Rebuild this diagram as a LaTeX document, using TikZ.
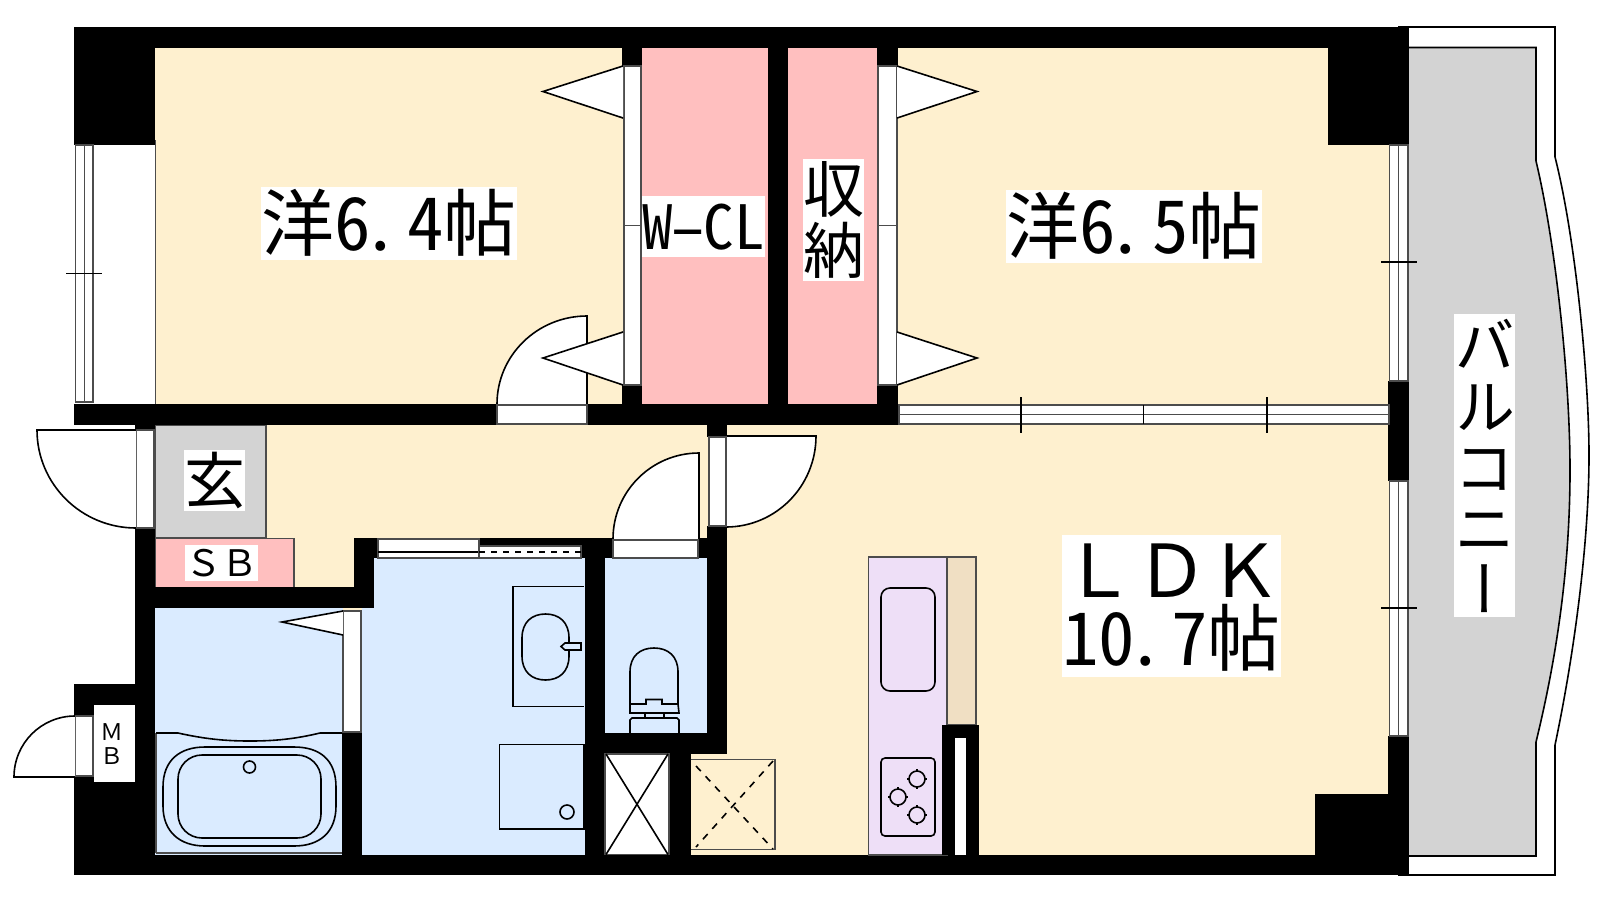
\documentclass[tikz,border=0pt]{standalone}
\usepackage{fontspec}
\newfontfamily\jpfont{Noto Sans CJK JP}
\newfontfamily\jphalf[RawFeature=+hwid]{Noto Sans CJK JP}
\newfontfamily\jpvert[RawFeature=+vert]{Noto Sans CJK JP}
\definecolor{cream}{HTML}{FEF0CF}
\definecolor{pinkroom}{HTML}{FFBFBF}
\definecolor{blueroom}{HTML}{DAEBFF}
\definecolor{grayroom}{HTML}{D3D3D3}
\definecolor{lilac}{HTML}{EEDFF7}
\definecolor{tan2}{HTML}{F0DFC3}
\tikzset{
  wall/.style={fill=black,draw=none},
  frame/.style={fill=white,draw=black!70,line width=1.5pt},
  fix/.style={draw=black,line width=1.6pt},
  grayline/.style={draw=black!70,line width=1.5pt},
  thin line/.style={draw=black,line width=1.2pt},
  lab/.style={fill=white,inner sep=0pt,outer sep=0pt,text=black,align=center},
}
% quarter door: centre, vector a, vector b
\newcommand{\doorleaf}[6]{%
  \filldraw[fill=white,draw=black,line width=1.6pt] (#1,#2) -- ({#1+#3},{#2+#4})
    .. controls ({#1+#3+0.5523*#5},{#2+#4+0.5523*#6}) and ({#1+#5+0.5523*#3},{#2+#6+0.5523*#4})
    .. ({#1+#5},{#2+#6});}
\newcommand{\burner}[2]{%
  \draw[thin line] ({#1-10},#2) -- ({#1+10},#2) ({#1},{#2-10}) -- ({#1},{#2+10});
  \fill[lilac] (#1,#2) circle[radius=7.3];
  \draw[fix] (#1,#2) circle[radius=8];}
\newcommand{\dotpt}[1]{\kern-#1pt.\kern#1pt}
\begin{document}
\begin{tikzpicture}[x=1pt,y=-1pt]
\useasboundingbox (0,0) rectangle (1600,900);
\fill[white] (0,0) rectangle (1600,900);
% balcony
\draw[fix,fill=white] (1398,27) -- (1555,27) -- (1555,157)
  .. controls (1576,240) and (1589,380) .. (1589,455)
  .. controls (1589,540) and (1575,650) .. (1555,745) -- (1555,875) -- (1398,875);
\draw[fix,fill=grayroom] (1409,47.5) -- (1536,47.5) -- (1536,161)
  .. controls (1556,245) and (1570,380) .. (1570,470)
  .. controls (1570,570) and (1556,660) .. (1536,742) -- (1536,856) -- (1409,856);
% rooms
\fill[cream] (155,48) rectangle (1389,855);
\fill[white] (93,145) rectangle (155,404);
\draw[grayline] (155.5,140) -- (155.5,404);
\fill[pinkroom] (642,48) rectangle (768,404);
\fill[pinkroom] (788,48) rectangle (877,404);
\filldraw[fill=grayroom,grayline] (155,425) rectangle (266,538);
\filldraw[fill=pinkroom,grayline] (155,538.5) rectangle (294,588);
\fill[blueroom] (155,608) rectangle (343,855);
\fill[blueroom] (362,608) rectangle (585,855);
\fill[blueroom] (374,558) rectangle (585,610);
\fill[blueroom] (605,558) rectangle (707,733);
% walls
\fill[wall] (74,27) rectangle (1409,48);
\fill[wall] (74,27) rectangle (155,145);
\fill[wall] (1328,27) rectangle (1409,145);
\fill[wall] (74,404) rectangle (898,425);
\fill[wall] (622,48) rectangle (642,66);
\fill[wall] (622,385) rectangle (642,404);
\fill[wall] (768,48) rectangle (788,404);
\fill[wall] (877,48) rectangle (898,66);
\fill[wall] (877,385) rectangle (898,404);
\fill[wall] (707,425) rectangle (727,437);
\fill[wall] (135,425) rectangle (155,875);
\fill[wall] (135,587) rectangle (374,608);
\fill[wall] (354,538) rectangle (374,608);
\fill[wall] (354,538) rectangle (378,558);
\fill[wall] (479,538) rectangle (581,546);
\fill[wall] (581,538) rectangle (613,558);
\fill[wall] (585,538) rectangle (605,855);
\fill[wall] (698,538) rectangle (727,558);
\fill[wall] (707,526) rectangle (727,754);
\fill[wall] (585,733) rectangle (727,754);
\fill[wall] (669,754) rectangle (691,855);
\fill[wall] (342,733) rectangle (362,855);
\fill[wall] (74,855) rectangle (1409,875);
\fill[wall] (74,684) rectangle (135,875);
\fill[wall] (1388,381) rectangle (1409,481);
\fill[wall] (1388,736) rectangle (1409,875);
\fill[wall] (1315,794) rectangle (1409,875);
% entrance door
\filldraw[frame] (136.5,430) rectangle (154,528);
\doorleaf{136}{430}{-99}{0}{0}{98}
% MB closet
\fill[white] (94,705) rectangle (135,782);
\filldraw[frame] (75.5,716) rectangle (93,776);
\doorleaf{75}{777}{-61}{0}{0}{-61}
% windows
\filldraw[frame] (75.5,145) rectangle (93,402);
\draw[grayline] (84.5,145) -- (84.5,402);
\draw[fix] (66,273.5) -- (102,273.5);
\filldraw[frame] (1389.5,145) rectangle (1408,381);
\draw[grayline] (1398.5,145) -- (1398.5,381);
\draw[fix] (1381,262) -- (1417,262);
\filldraw[frame] (1389.5,481) rectangle (1408,736);
\draw[grayline] (1398.5,481) -- (1398.5,736);
\draw[fix] (1381,608) -- (1417,608);
\filldraw[frame] (899,405) rectangle (1389,424);
\draw[grayline] (899,414.5) -- (1389,414.5);
\draw[fix] (1021,397) -- (1021,433);
\draw[fix] (1143.5,405) -- (1143.5,424);
\draw[fix] (1267,397) -- (1267,433);
% door to west room
\doorleaf{587}{404}{0}{-88}{-90}{0}
\filldraw[frame] (497,405) rectangle (587,424);
% folding doors
\filldraw[frame] (624,66) rectangle (641,385);
\draw[grayline] (624,225.5) -- (641,225.5);
\filldraw[frame] (878,66) rectangle (897,385);
\draw[grayline] (878,225.5) -- (897,225.5);
\filldraw[fill=white,fix] (623,66) -- (543,91.5) -- (623,118);
\filldraw[fill=white,fix] (623,332) -- (543,358) -- (623,385);
\filldraw[fill=white,fix] (897,66) -- (977,91.5) -- (897,118);
\filldraw[fill=white,fix] (897,332) -- (977,358) -- (897,385);
% lower doors
\doorleaf{726}{436}{90}{0}{0}{91}
\filldraw[frame] (709,437) rectangle (726,526);
\doorleaf{699}{539}{0}{-86}{-86}{0}
\filldraw[frame] (613,540) rectangle (698,558);
% washroom sliding doors
\filldraw[frame] (378,539) rectangle (479,558);
\draw[fix] (378,552) -- (479,552);
\filldraw[frame] (479,546) rectangle (581,558);
\draw[fix,dashed,dash pattern=on 6pt off 6pt] (479,552) -- (581,552);
\filldraw[frame] (343,611) rectangle (361,732);
\filldraw[fill=white,fix] (343,611) -- (282,622) -- (343,635);
% bath
\draw[grayline] (156,853) -- (156,733);
\draw[fix] (156,733) -- (178,733) .. controls (205,739) and (225,741) .. (250,741)
  .. controls (275,741) and (295,739) .. (320,733) -- (342,733);
\draw[grayline] (156,853) -- (342,853);
\draw[fix] (163,787) .. controls (163,760) and (180,747) .. (205,747) -- (294,747)
  .. controls (320,747) and (336,760) .. (336,787) -- (336,806)
  .. controls (336,832) and (320,846) .. (294,846) -- (205,846)
  .. controls (180,846) and (163,832) .. (163,806) -- cycle;
\draw[fix,rounded corners=24pt] (178,755) rectangle (321,838);
\draw[fix] (249.5,767) circle[radius=6];
% vanity
\draw[fix] (584,586.5) -- (513,586.5) -- (513,706.5) -- (584,706.5);
\draw[fix] (522,638) .. controls (522,622) and (532,614) .. (545.5,614)
  .. controls (559,614) and (569,622) .. (569,638) -- (569,656)
  .. controls (569,672) and (559,680) .. (545.5,680)
  .. controls (532,680) and (522,672) .. (522,656) -- cycle;
\filldraw[fill=blueroom,fix] (581,643) -- (565,643) -- (561,646.5) -- (565,650) -- (581,650) -- cycle;
\draw[fix] (499.5,744.5) rectangle (584,829);
\draw[fix] (567,812) circle[radius=7];
% toilet
\draw[fix] (630,704) -- (630,672) .. controls (630,656) and (640,648) .. (654,648)
  .. controls (668,648) and (678,656) .. (678,672) -- (678,704);
\draw[fix] (630,704) -- (646,704) -- (646,699.5) -- (662,699.5) -- (662,704) -- (678,704) -- (679,713) -- (630,713) -- cycle;
\draw[fix] (645,713) rectangle (664,718);
\draw[fix] (630,733) -- (630,720) -- (632,718) -- (677,718) -- (679,720) -- (679,733);
% shaft
\filldraw[fill=white,grayline] (605,754) rectangle (669,854.5);
\draw[fix] (606,754) -- (668,854.5) (668,754) -- (606,854.5);
% pale square
\draw[grayline,line width=1.8pt] (691,759.5) -- (775,759.5) -- (775,849.5) -- (691,849.5);
\draw[fix,dashed,dash pattern=on 7pt off 7pt] (696,766) -- (773,849) (773,761) -- (696,847);
% kitchen
\filldraw[fill=lilac,grayline] (868.5,557) rectangle (947,855);
\filldraw[fill=tan2,grayline] (947,557) rectangle (976,725);
\fill[wall] (942,725) rectangle (979,855);
\fill[white] (955,738) rectangle (966,855);
\draw[fix,rounded corners=9pt] (881,588) rectangle (935,691);
\draw[fix,rounded corners=4pt] (881,758) rectangle (935,836);
\burner{917}{779}
\burner{898}{797}
\burner{917}{815}
% texts
\node[lab,minimum width=256pt,minimum height=73pt,text height=63pt,text depth=10pt,font=\fontsize{73}{73}\jphalf] (west) at (389,223.5) {洋6\dotpt{8}4帖};
\node[lab,minimum width=256pt,minimum height=73pt,text height=63pt,text depth=10pt,font=\fontsize{73}{73}\jphalf] (east) at (1134,226.5) {洋6\dotpt{8}5帖};
\node[lab,minimum width=123pt,minimum height=61pt,text height=53pt,text depth=8pt,font=\fontsize{61}{61}\jphalf] (wcl) at (703.5,226.5) {W\makebox[0.5em]{\scalebox{1.55}[1]{-}}CL};
\node[lab,minimum width=61pt,minimum height=122pt,font=\fontsize{61}{61}\jpfont] (store) at (833.5,220) {収\\納};
\node[lab,minimum width=61pt,minimum height=61pt,text height=53pt,text depth=8pt,font=\fontsize{61}{61}\jpfont] (genkan) at (214.5,480.5) {玄};
\node[lab,minimum width=73pt,minimum height=36pt,text height=31pt,text depth=5pt,font=\fontsize{36.5}{36.5}\jpfont] (sb) at (221.5,563) {ＳＢ};
\node[inner sep=0pt,align=center,font=\fontsize{23}{24}\jpfont] (mb) at (112,744) {Ｍ\\Ｂ};
\fill[white] (1062,535) rectangle (1281,677);
\node[inner sep=0pt,align=center,font=\fontsize{73}{68}\jphalf] (ldk) at (1171.5,607.5) {{\jpfont ＬＤＫ}\\10\dotpt{8}7帖};
\node[lab,minimum width=61pt,minimum height=303pt,font=\fontsize{61}{61}\jpvert] (balc) at (1484.5,465.5) {バ\\ル\\コ\\ニ\\ー};
\end{tikzpicture}
\end{document}
